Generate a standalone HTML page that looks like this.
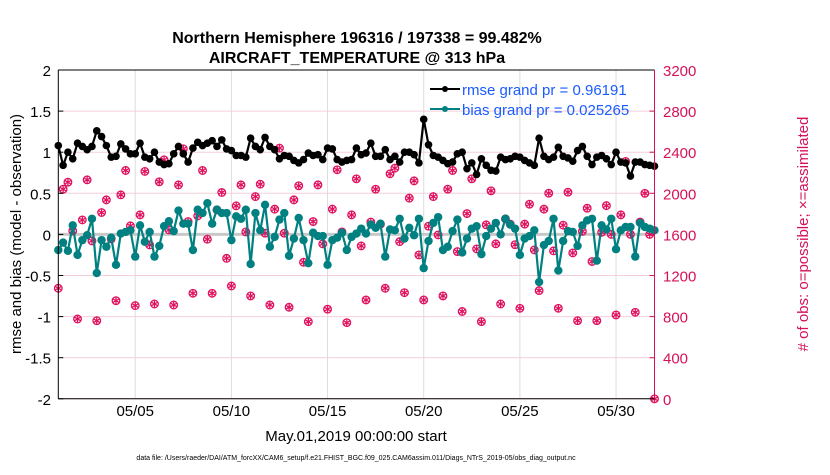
<!DOCTYPE html>
<html><head><meta charset="utf-8"><style>
body{margin:0;background:#fff}
svg text{font-family:"Liberation Sans",sans-serif}
</style></head><body>
<svg id="c" width="830" height="470" xmlns="http://www.w3.org/2000/svg">
<rect width="830" height="470" fill="#fff"/>
<g id="grid"></g><g id="marks"></g><g id="axes"></g>
<text x="357" y="43" text-anchor="middle" font-size="16" font-weight="bold">Northern Hemisphere 196316 / 197338 = 99.482%</text>
<text x="357" y="63" text-anchor="middle" font-size="16" font-weight="bold">AIRCRAFT_TEMPERATURE @ 313 hPa</text>
<text transform="translate(21,234) rotate(-90)" text-anchor="middle" font-size="15">rmse and bias (model - observation)</text>
<text transform="translate(808,234) rotate(-90)" text-anchor="middle" font-size="15" fill="#d6115a"># of obs: o=possible; ×=assimilated</text>
<text x="356" y="441" text-anchor="middle" font-size="15">May.01,2019 00:00:00 start</text>
<text x="356" y="460" text-anchor="middle" font-size="7">data file: /Users/raeder/DAI/ATM_forcXX/CAM6_setup/f.e21.FHIST_BGC.f09_025.CAM6assim.011/Diags_NTrS_2019-05/obs_diag_output.nc</text>
<g>
<line x1="430" y1="89" x2="460" y2="89" stroke="#000" stroke-width="2"/><circle cx="445" cy="89" r="3" fill="#000"/>
<text x="462" y="95" font-size="15" fill="#1a5cff">rmse grand pr = 0.96191</text>
<line x1="430" y1="109" x2="460" y2="109" stroke="#008080" stroke-width="2"/><circle cx="445" cy="109" r="3" fill="#008080"/>
<text x="462" y="115" font-size="15" fill="#1a5cff">bias grand pr = 0.025265</text>
</g>
</svg>
<script>
const rmse=[1.08,0.84,1.0,0.92,1.11,1.07,1.03,1.07,1.26,1.19,1.08,0.94,0.95,1.1,1.04,0.98,0.98,1.11,0.94,0.92,1.0,0.88,0.85,0.86,0.98,1.07,0.98,0.88,1.05,1.12,1.08,1.11,1.14,1.07,1.15,1.04,1.02,0.96,0.96,0.94,1.17,1.07,
1.03,1.18,1.07,1.03,0.92,0.96,0.95,0.9,0.87,0.91,0.99,0.96,0.97,0.91,1.05,1.04,0.91,0.88,0.9,0.91,1.05,0.97,0.99,1.11,0.95,0.95,1.03,0.91,0.95,0.88,1.0,1.0,0.97,0.87,1.40,1.09,0.96,0.94,0.9,0.86,0.88,0.98,
1.0,0.8,0.87,0.73,0.92,0.84,0.78,0.77,0.94,0.91,0.92,0.95,0.94,0.9,0.87,0.84,1.17,0.95,0.91,0.94,1.06,0.95,0.93,0.89,1.02,1.07,0.95,0.85,0.94,0.96,0.92,0.85,1.0,0.88,0.87,0.71,0.88,0.88,0.85,0.84,0.83];
const bias=[-0.19,-0.10,-0.2,0.11,-0.25,-0.07,-0.01,0.19,-0.47,-0.07,-0.15,-0.04,-0.37,0.01,0.03,0.05,-0.27,0.11,-0.09,0.03,-0.27,-0.14,0.1,0.16,0.04,0.29,0.13,0.13,-0.19,0.3,0.26,0.38,0.13,0.3,0.26,0.26,-0.07,0.22,0.19,0.3,-0.36,0.26,
0.05,0.36,-0.15,-0.03,0.18,0.26,-0.26,-0.05,0.2,-0.07,-0.35,0.02,-0.02,-0.02,-0.37,-0.07,-0.04,0.02,-0.19,-0.03,0.01,0.07,0.01,0.12,0.08,0.13,-0.27,0.06,0.05,0.19,-0.05,0.08,-0.01,0.19,-0.41,-0.08,0.14,0.21,-0.19,-0.15,0.04,0.18,
-0.22,-0.05,0.07,0.1,-0.24,-0.02,0.07,0.14,0,0.19,0.12,0.07,-0.25,-0.05,-0.02,0.05,-0.58,-0.13,-0.08,0.19,-0.44,-0.08,0.04,0.03,-0.14,0.11,0.17,0.19,-0.32,0.11,0.06,0.19,-0.18,0.05,0.09,0.09,-0.27,0.14,0.09,0.07,0.05];
const nobs=[1076,2040,2108,1634,777,1741,2131,1537,760,1813,1936,1556,955,1985,2222,1683,907,1790,2213,1498,923,2112,2326,1644,913,2082,2433,1725,1027,1780,2222,1553,1027,1839,2008,1367,1098,1878,2082,1624,1001,1968,
2089,1612,913,1846,2440,1612,891,1936,2073,1329,751,1725,2082,1508,872,1846,2229,1624,741,1790,2141,1488,962,1720,2040,1700,1076,2190,2245,1530,1033,1953,2121,1400,962,1680,1968,1595,1001,2040,2222,1433,
850,1803,2141,1459,751,1693,2024,1508,923,1751,1700,1500,881,1700,1894,1449,1053,1846,2001,1440,881,1690,2011,1420,760,1630,1855,1336,760,1620,1880,1600,816,1790,2310,1600,842,1720,2000,1600,0];
const leftTicks=[-2,-1.5,-1,-0.5,0,0.5,1,1.5,2];
const rightTicks=[0,400,800,1200,1600,2000,2400,2800,3200];
const dayTicks=[4,9,14,19,24,29];
const dayLabels=["05/05","05/10","05/15","05/20","05/25","05/30"];
const X0=58.3,X1=654.5,Y0=398.8,Y1=70;
const xs=d=>X0+(d/31)*(X1-X0);
const yl=v=>Y0-(v+2)/4*(Y0-Y1);
const yr=v=>Y0-v/3200*(Y0-Y1);
const NS="http://www.w3.org/2000/svg";
function mk(p,t,a){const e=document.createElementNS(NS,t);for(const k in a)e.setAttribute(k,a[k]);p.appendChild(e);return e;}
const G=document.getElementById('grid'),M=document.getElementById('marks'),A=document.getElementById('axes');
dayTicks.forEach((d,i)=>{const l=mk(G,'line',{x1:xs(d),x2:xs(d),y1:Y1,y2:Y0,stroke:'#ddd','stroke-width':1});


const t=mk(A,'text',{x:xs(d),y:416,'text-anchor':'middle','font-size':15});t.textContent=dayLabels[i];

});
rightTicks.forEach(v=>{const l=mk(G,'line',{x1:X0,x2:X1,y1:yr(v),y2:yr(v),stroke:'#f3cfdc','stroke-width':1});


const t=mk(A,'text',{x:663,y:yr(v)+6,'font-size':15,fill:'#d6115a'});t.textContent=v;


mk(A,'line',{x1:X1-5,x2:X1,y1:yr(v),y2:yr(v),stroke:'#d6115a'});});
leftTicks.forEach(v=>{const t=mk(A,'text',{x:51,y:yl(v)+6,'text-anchor':'end','font-size':15});t.textContent=v;


mk(A,'line',{x1:X0,x2:X0+5,y1:yl(v),y2:yl(v),stroke:'#000'});});
const zl=mk(M,'line',{x1:X0,x2:X1,y1:yl(0),y2:yl(0),stroke:'#c8c8c8','stroke-width':3});


nobs.forEach((v,i)=>{const g=mk(M,'g',{});


const cx=xs(i*0.25),cy=yr(v);
mk(g,'circle',{cx:cx,cy:cy,r:3.8,fill:'none',stroke:'#e0115f','stroke-width':1.3});
for(let k=0;k<3;k++){const a=k*Math.PI/3+Math.PI/2;mk(g,'line',{x1:cx-4*Math.cos(a),y1:cy-4*Math.sin(a),x2:cx+4*Math.cos(a),y2:cy+4*Math.sin(a),stroke:'#e0115f','stroke-width':1.3});}});
function series(arr,color,name,r){const pts=arr.map((v,i)=>xs(i*0.25)+','+yl(v)).join(' ');
const pl=mk(M,'polyline',{points:pts,fill:'none',stroke:color,'stroke-width':2.2});


arr.forEach((v,i)=>{const c=mk(M,'circle',{cx:xs(i*0.25),cy:yl(v),r:r,fill:color});

});}
series(bias,'#008080','bias',4.2);
series(rmse,'#000','rmse',3.8);
mk(A,'line',{x1:X0,x2:X0,y1:Y1,y2:Y0,stroke:'#000'});
mk(A,'line',{x1:X0,x2:X1,y1:Y1,y2:Y1,stroke:'#000'});
mk(A,'line',{x1:X0,x2:X1,y1:Y0,y2:Y0,stroke:'#000'});
mk(A,'line',{x1:X1,x2:X1,y1:Y1,y2:Y0,stroke:'#d6115a'});
</script>
</body></html>
